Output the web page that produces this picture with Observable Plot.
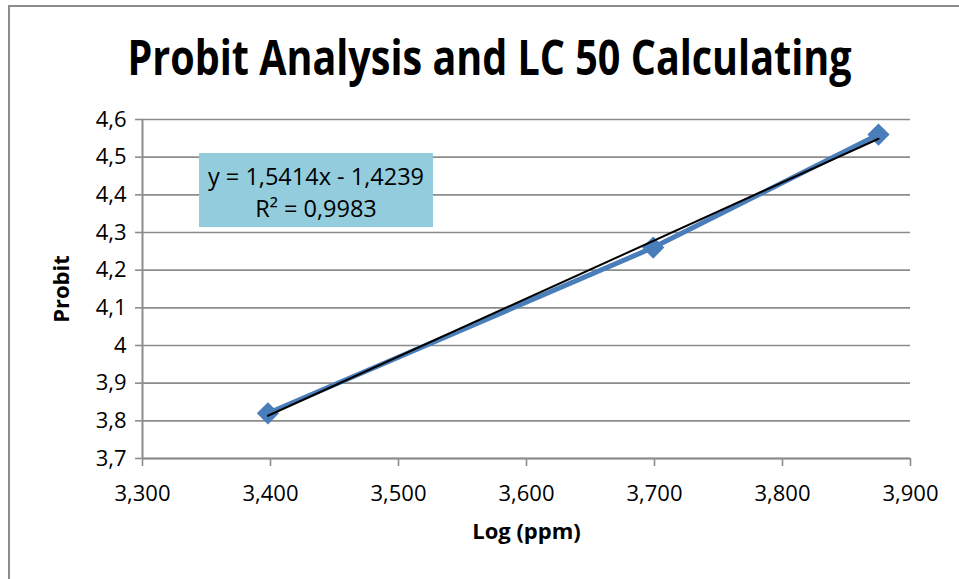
<!DOCTYPE html>
<html><head><meta charset="utf-8">
<script src="https://cdn.jsdelivr.net/npm/d3@7"></script>
<script src="https://cdn.jsdelivr.net/npm/@observablehq/plot@0.6"></script>
<style>
html,body{margin:0;padding:0;background:#fff;}
#chart{position:relative;width:959px;height:579px;overflow:hidden;font-family:"Open Sans",sans-serif;}
#frame{position:absolute;left:8px;top:5px;width:1000px;height:700px;border-left:2px solid #8c8c8c;border-top:2px solid #8c8c8c;box-sizing:border-box;pointer-events:none;}
#title{position:relative;height:100px;}
#title span{position:absolute;left:10px;top:33px;width:959px;text-align:center;font-weight:bold;font-size:48px;line-height:48px;color:#000;white-space:nowrap;transform-origin:center;}
#plot{position:relative;height:479px;}
#eq{position:absolute;left:199px;top:153px;width:234px;height:74px;background:#93CDDD;display:flex;flex-direction:column;align-items:center;justify-content:center;padding-top:3px;box-sizing:border-box;font-size:23.5px;line-height:32px;color:#000;}
</style>
</head><body>
<div id="chart">
  <div id="frame"></div>
  <div id="title"><span id="titletext">Probit Analysis and LC 50 Calculating</span></div>
  <div id="plot"></div>
  <div id="eq"><div>y = 1,5414x - 1,4239</div><div>R² = 0,9983</div></div>
</div>
<script>
const logPpm = [3.398, 3.699, 3.875];
const probit = [3.82, 4.26, 4.56];
const xTicks = [3.3, 3.4, 3.5, 3.6, 3.7, 3.8, 3.9];
const yTicks = [3.7, 3.8, 3.9, 4.0, 4.1, 4.2, 4.3, 4.4, 4.5, 4.6];
const xLabel = "Log (ppm)";
const yLabel = "Probit";

const data = logPpm.map((x, i) => ({x, y: probit[i]}));
const loc = d3.formatLocale({decimal: ",", thousands: ".", grouping: [3], currency: ["", ""]});
const fx = loc.format(".3f");
const fy = d => String(+d.toFixed(1)).replace(".", ",");

const gray = "#8c8c8c";
const blue = "#4A7EBB";

const chart = Plot.plot({
  width: 959,
  height: 479,
  marginLeft: 142,
  marginRight: 49,
  marginTop: 19,
  marginBottom: 121,
  style: {fontFamily: "'Open Sans', sans-serif", fontSize: "22px", background: "transparent", color: "#000"},
  x: {domain: [3.3, 3.9]},
  y: {domain: [3.7, 4.6]},
  marks: [
    Plot.gridY(yTicks, {stroke: gray, strokeOpacity: 1, strokeWidth: 1.6}),
    Plot.ruleX([xTicks[0]], {stroke: gray, strokeWidth: 2}),
    Plot.ruleY([yTicks[0]], {stroke: gray, strokeWidth: 2}),
    Plot.axisY(yTicks, {tickSize: 7, tickPadding: 9, tickFormat: fy, stroke: gray, fill: "#000", strokeWidth: 1.6, fontSize: 22, label: null}),
    Plot.axisX(xTicks, {tickSize: 8, tickPadding: 19, tickFormat: fx, stroke: gray, fill: "#000", strokeWidth: 1.6, fontSize: 22, label: null}),
    Plot.line(data, {x: "x", y: "y", stroke: blue, strokeWidth: 5}),
    Plot.dot(data, {x: "x", y: "y", symbol: "diamond2", r: 10, fill: blue, stroke: "none"}),
    Plot.linearRegressionY(data, {x: "x", y: "y", stroke: "#000", strokeWidth: 2, ci: 0}),
    Plot.text([yLabel], {text: d => d, frameAnchor: "left", dx: -81, rotate: -90, fontWeight: "bold", fontSize: 22, textAnchor: "middle", lineAnchor: "middle"}),
    Plot.text([xLabel], {text: d => d, frameAnchor: "bottom", dy: 73, fontWeight: "bold", fontSize: 22, textAnchor: "middle", lineAnchor: "middle"})
  ]
});
document.getElementById("plot").appendChild(chart);

// fit title width to reference (~724px)
const t = document.getElementById("titletext");
const ctx = document.createElement("canvas").getContext("2d");
ctx.font = "bold 48px 'Open Sans'";
const w = ctx.measureText(t.textContent).width;
t.style.transform = `scaleX(${724 / w})`;
</script>
</body></html>
